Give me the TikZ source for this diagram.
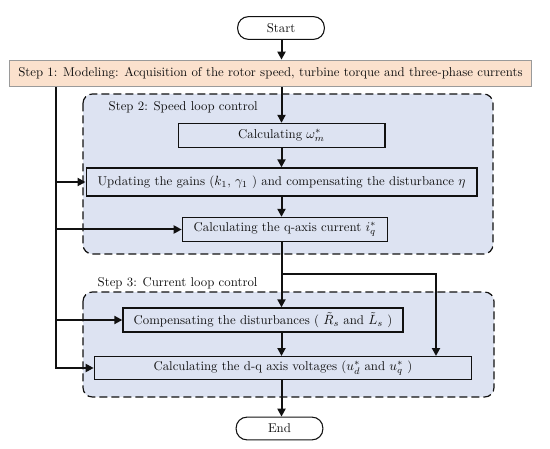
\documentclass[tikz,border=0pt]{standalone}
\usepackage{tikz}
\usetikzlibrary{arrows.meta}
\usetikzlibrary{backgrounds}
\usetikzlibrary{calc}
\definecolor{ctlpanel}{HTML}{DDE3F2}
\definecolor{ctlpeach}{HTML}{FBE1CD}
\definecolor{ctlgray}{HTML}{9A9A9A}
\definecolor{ctlink}{HTML}{111111}
\tikzset{
  ctlterm/.style={
    draw=ctlink, fill=white, rounded corners=8pt, line width=0.8pt,
    minimum width=65pt, minimum height=17pt, inner sep=0pt},
  ctlbox/.style={
    draw=ctlink, fill=ctlpanel, line width=1pt, inner sep=0pt,
    minimum height=18pt},
  ctlstage/.style={
    draw=ctlgray, fill=ctlpeach, line width=0.8pt, inner sep=0pt,
    minimum width=392pt, minimum height=20pt},
  ctlgroup/.style={
    draw=ctlink, fill=ctlpanel, dashed, dash pattern=on 6pt off 3pt,
    line width=0.9pt, rounded corners=7pt},
  ctlflow/.style={-{Triangle[length=6pt, width=6pt]}, draw=ctlink,
    line width=1.5pt},
  ctlline/.style={draw=ctlink, line width=1.5pt},
  ctlhead/.style={anchor=west, text=ctlink},
  every node/.style={font=\fontsize{9.6}{11}\selectfont, text=ctlink},
}

\begin{document}
\begin{tikzpicture}[x=0.75pt, y=-0.75pt]
\useasboundingbox (0,0) rectangle (550,449);

% Loop panels, behind everything.
\draw[ctlgroup] (83,94) rectangle (493,254);
\node[ctlhead] (head2) at (104,107) {Step 2: Speed loop control};
\draw[ctlgroup] (83,292) rectangle (494,397);
\node[ctlhead] (head3) at (93,283) {Step 3: Current loop control};

% Start and data acquisition.
\node[ctlterm] (start) at (281,28) {Start};
\node[ctlstage] (model) at (270.5,73.5)
  {Step 1: Modeling: Acquisition of the rotor speed, turbine torque and three-phase currents};

% Speed loop.
\node[ctlbox, minimum width=155pt] (omega) at (281.5,135.5)
  {Calculating $\omega_m^{*}$};
\node[ctlbox, minimum width=293pt, minimum height=21pt] (gains) at (281.5,182)
  {Updating the gains ($k_1$, $\gamma_1$ ) and compensating the disturbance $\eta$};
\node[ctlbox, minimum width=154pt] (iq) at (285,229.5)
  {Calculating the q-axis current $i_q^{*}$};

% Current loop.
\node[ctlbox, minimum width=210pt] (comp) at (263,320)
  {Compensating the disturbances ( $\tilde{R}_s$ and $\tilde{L}_s$ )};
\node[ctlbox, minimum width=283pt, minimum height=17pt] (dq) at (283,368)
  {Calculating the d-q axis voltages ($u_d^{*}$ and $u_q^{*}$ )};

\node[ctlterm] (end) at (279.5,428.5) {End};

% Main spine.
\draw[ctlflow] (start.south -| omega) -- (model.north -| omega);
\draw[ctlflow] (model.south -| omega) -- (omega.north);
\draw[ctlflow] (omega.south) -- (gains.north -| omega);
\draw[ctlflow] (gains.south -| omega) -- (iq.north -| omega);
\draw[ctlflow] (iq.south -| omega) -- (comp.north -| omega);
\draw[ctlflow] (comp.south -| omega) -- (dq.north -| omega);
\draw[ctlflow] (dq.south -| omega) -- (end.north -| omega);

% q-axis reference straight to the voltage block.
\coordinate (split) at (281.5,274);
\coordinate (bend) at (436,274);
\draw[ctlflow] (split) -- (bend) -- (dq.north -| bend);

% Measured signals fed to every block.
\coordinate (tap) at (56,87);
\draw[ctlflow] (model.south -| tap) -- (tap |- dq) -- (dq.west);
\draw[ctlflow] (tap |- gains) -- (gains.west);
\draw[ctlflow] (tap |- iq) -- (iq.west);
\draw[ctlflow] (tap |- comp) -- (comp.west);

\end{tikzpicture}
\end{document}
